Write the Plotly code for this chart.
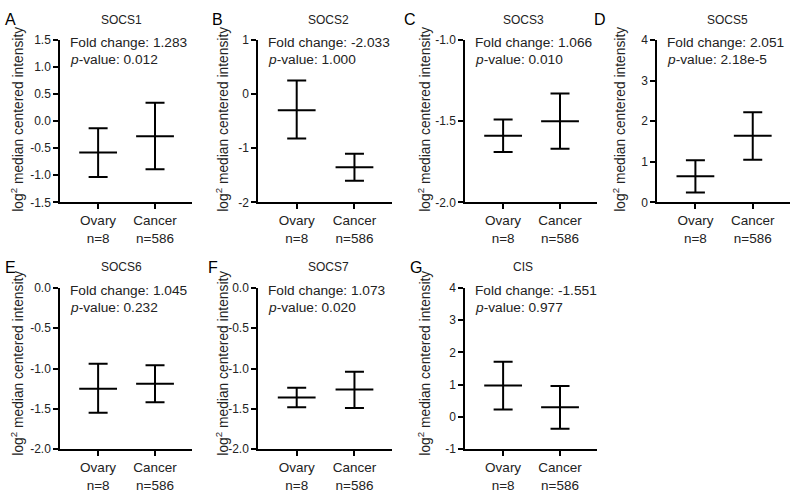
import plotly.graph_objects as go

# ---------------- data ----------------
groups = ["Ovary", "Cancer"]
n_labels = ["n=8", "n=586"]
genes = ["SOCS1", "SOCS2", "SOCS3", "SOCS5", "SOCS6", "SOCS7", "CIS"]
letters = ["A", "B", "C", "D", "E", "F", "G"]

mean_vals = {
    "SOCS1": [-0.58, -0.28],
    "SOCS2": [-0.30, -1.35],
    "SOCS3": [-1.59, -1.50],
    "SOCS5": [0.64, 1.64],
    "SOCS6": [-1.25, -1.19],
    "SOCS7": [-1.36, -1.26],
    "CIS":   [0.97, 0.30],
}
upper_vals = {
    "SOCS1": [-0.13, 0.34],
    "SOCS2": [0.25, -1.10],
    "SOCS3": [-1.49, -1.33],
    "SOCS5": [1.04, 2.22],
    "SOCS6": [-0.94, -0.96],
    "SOCS7": [-1.24, -1.04],
    "CIS":   [1.71, 0.96],
}
lower_vals = {
    "SOCS1": [-1.03, -0.89],
    "SOCS2": [-0.82, -1.60],
    "SOCS3": [-1.69, -1.67],
    "SOCS5": [0.24, 1.05],
    "SOCS6": [-1.55, -1.42],
    "SOCS7": [-1.48, -1.49],
    "CIS":   [0.23, -0.37],
}
fold_changes = ["1.283", "-2.033", "1.066", "2.051", "1.045", "1.073", "-1.551"]
p_values = ["0.012", "1.000", "0.010", "2.18e-5", "0.232", "0.020", "0.977"]
y_ranges = [[-1.5, 1.5], [-2, 1], [-2, -1], [0, 4], [-2, 0], [-2, 0], [-1, 4]]

# y tick values and labels per panel
y_tickvals = [
    [-1.5, -1.0, -0.5, 0.0, 0.5, 1.0, 1.5],
    [-2, -1, 0, 1],
    [-2.0, -1.5, -1.0],
    [0, 1, 2, 3, 4],
    [-2.0, -1.5, -1.0, -0.5, 0.0],
    [-2.0, -1.5, -1.0, -0.5, 0.0],
    [-1, 0, 1, 2, 3, 4],
]
y_ticktext = [
    ["-1.5", "-1.0", "-0.5", "0.0", "0.5", "1.0", "1.5"],
    ["-2", "-1", "0", "1"],
    ["-2.0", "-1.5", "-1.0"],
    ["0", "1", "2", "3", "4"],
    ["-2.0", "-1.5", "-1.0", "-0.5", "0.0"],
    ["-2.0", "-1.5", "-1.0", "-0.5", "0.0"],
    ["-1", "0", "1", "2", "3", "4"],
]

# ---------------- layout geometry (pixels) ----------------
W, H = 800, 496
x_px = [(60, 192), (258, 392), (465, 597), (657, 790), (60, 192), (258, 392), (465, 597)]
row_px = [(34, 201), (289, 455)]
rows = [0, 0, 0, 0, 1, 1, 1]
ytitle_yc = [116, 367]
letter_x = [10, 217, 410, 600, 10, 213, 416]
title_x = [121, 328, 523, 727, 121, 328, 523]
ytitle_x = [17, 222, 424, 619, 17, 222, 424]

FONT = "Arial, Liberation Sans, sans-serif"
TXT = "#222222"

def px_x(v):
    return v / W

def px_y(v):
    return 1 - v / H

fig = go.Figure()
annotations = []
layout_axes = {}

for i, g in enumerate(genes):
    k = "" if i == 0 else str(i + 1)
    xa, ya = "x" + k, "y" + k
    top, bot = row_px[rows[i]]
    means = mean_vals[g]
    ups = [u - m for u, m in zip(upper_vals[g], means)]
    downs = [m - l for m, l in zip(means, lower_vals[g])]
    fig.add_trace(go.Scatter(
        x=[0, 1], y=means, xaxis=xa, yaxis=ya, mode="markers",
        marker=dict(symbol="line-ew", size=27, color="black",
                    line=dict(color="black", width=2)),
        error_y=dict(type="data", symmetric=False, array=ups, arrayminus=downs,
                     color="black", thickness=2, width=9.5),
        showlegend=False, hoverinfo="skip",
    ))
    layout_axes["xaxis" + k] = dict(
        domain=[px_x(x_px[i][0]), px_x(x_px[i][1])], anchor=ya,
        range=[-0.67, 1.65], tickmode="array", tickvals=[0, 1],
        ticktext=[f"{gr}<br>{n}" for gr, n in zip(groups, n_labels)],
        showline=True, linecolor="black", linewidth=1.5,
        ticks="outside", ticklen=5, tickwidth=1.5, tickcolor="black",
        showgrid=False, zeroline=False,
        tickfont=dict(family=FONT, size=13.5, color=TXT),
    )
    layout_axes["yaxis" + k] = dict(
        domain=[px_y(bot), px_y(top)], anchor=xa,
        range=y_ranges[i], tickmode="array",
        tickvals=y_tickvals[i], ticktext=y_ticktext[i],
        showline=True, linecolor="black", linewidth=1.5,
        ticks="outside", ticklen=5, tickwidth=1.5, tickcolor="black",
        showgrid=False, zeroline=False,
        tickfont=dict(family=FONT, size=12, color=TXT),
    )
    # panel letter
    annotations.append(dict(
        x=px_x(letter_x[i]), y=px_y(top - 21), xref="paper", yref="paper",
        text=letters[i], showarrow=False, xanchor="center", yanchor="middle",
        font=dict(family=FONT, size=16, color="black")))
    # title
    annotations.append(dict(
        x=px_x(title_x[i]), y=px_y(top - 21), xref="paper", yref="paper",
        text=g, showarrow=False, xanchor="center", yanchor="middle",
        font=dict(family=FONT, size=12, color=TXT)))
    # y title
    annotations.append(dict(
        x=px_x(ytitle_x[i]), y=px_y(ytitle_yc[rows[i]]), xref="paper", yref="paper",
        text="log<sup>2</sup> median centered intensity", textangle=-90,
        showarrow=False, xanchor="center", yanchor="middle",
        font=dict(family=FONT, size=13.8, color=TXT)))
    # stats text
    annotations.append(dict(
        x=px_x(x_px[i][0] + 8), y=px_y(top + 3), xref="paper", yref="paper",
        text=f"Fold change: {fold_changes[i]}", showarrow=False,
        xanchor="left", yanchor="middle",
        font=dict(family=FONT, size=13.7, color=TXT)))
    annotations.append(dict(
        x=px_x(x_px[i][0] + 8), y=px_y(top + 20), xref="paper", yref="paper",
        text=f"<i>p</i>-value: {p_values[i]}", showarrow=False,
        xanchor="left", yanchor="middle",
        font=dict(family=FONT, size=13.7, color=TXT)))

fig.update_layout(
    width=W, height=H, margin=dict(l=0, r=0, t=0, b=0),
    paper_bgcolor="white", plot_bgcolor="white",
    annotations=annotations, showlegend=False,
    font=dict(family=FONT, color=TXT),
    **layout_axes,
)

fig.write_html("out.html",
               config={"displayModeBar": False},
               post_script="document.body.style.margin='0px';document.body.style.padding='0px';")
